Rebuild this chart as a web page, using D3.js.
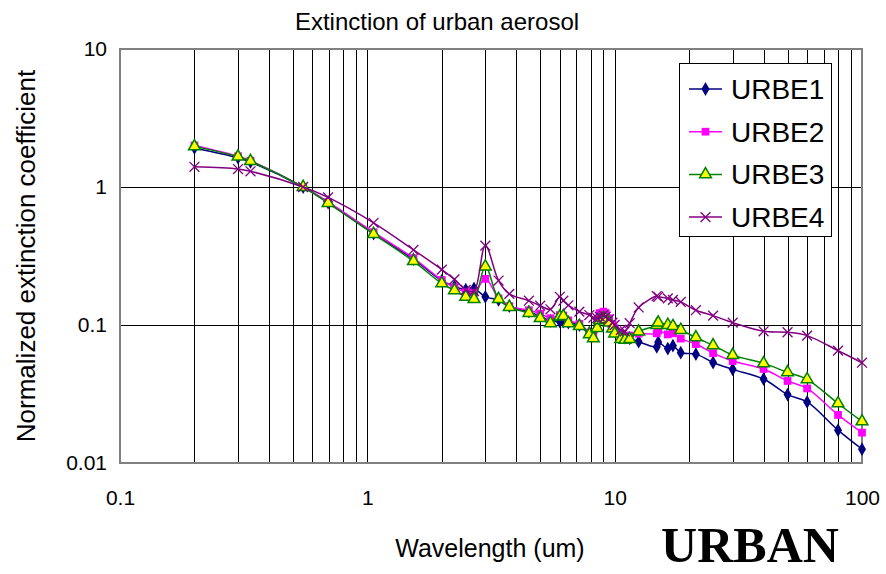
<!DOCTYPE html>
<html>
<head>
<meta charset="utf-8">
<script src="https://cdn.jsdelivr.net/npm/d3@7"></script>
<style>
html,body{margin:0;padding:0;background:#fff;}
svg{display:block;font-family:"Liberation Sans",Arial,sans-serif;}
</style>
</head>
<body>
<svg id="chart" width="886" height="574"></svg>
<script>
// ---- data ----
const wavelengths = [0.2,0.3,0.337,0.55,0.694,1.06,1.536,2.0,2.25,2.5,2.7,3.0,3.392,3.75,4.5,5.0,5.5,6.0,6.2,6.5,7.2,7.9,8.2,8.5,8.7,9.0,9.2,9.5,9.8,10.0,10.591,11.0,11.5,12.5,14.8,15.0,16.4,17.2,18.5,21.3,25.0,30.0,40.0,50.0,60.0,80.0,100.0];
const urbe1 = [1.92,1.63,1.52,1.0,0.77,0.46,0.30,0.21,0.19,0.18,0.184,0.160,0.152,0.137,0.125,0.116,0.107,0.106,0.106,0.104,0.100,0.088,0.086,0.098,0.112,0.118,0.116,0.108,0.098,0.092,0.084,0.081,0.080,0.0757,0.0695,0.075,0.0675,0.0708,0.063,0.0615,0.0535,0.0477,0.0406,0.0313,0.0277,0.0173,0.0126];
const urbe2 = [2.0,1.67,1.55,1.0,0.78,0.47,0.305,0.212,0.187,0.174,0.171,0.216,0.156,0.137,0.128,0.121,0.112,0.118,0.117,0.108,0.102,0.088,0.083,0.108,0.122,0.125,0.122,0.112,0.102,0.095,0.0865,0.083,0.084,0.0865,0.087,0.091,0.0855,0.087,0.0797,0.0728,0.0625,0.0548,0.048,0.0393,0.0347,0.0223,0.0166];
const urbe3 = [1.97,1.66,1.54,1.0,0.765,0.456,0.29,0.20,0.178,0.160,0.154,0.265,0.154,0.135,0.122,0.112,0.103,0.115,0.116,0.103,0.098,0.0855,0.080,0.095,0.108,0.112,0.110,0.104,0.094,0.0867,0.079,0.078,0.079,0.0895,0.100,0.104,0.100,0.098,0.092,0.0813,0.0712,0.0605,0.0527,0.0454,0.0404,0.027,0.020];
const urbe4 = [1.40,1.35,1.30,1.0,0.84,0.55,0.35,0.252,0.214,0.18,0.176,0.376,0.21,0.168,0.15,0.138,0.13,0.16,0.15,0.139,0.125,0.118,0.113,0.112,0.115,0.118,0.115,0.11,0.104,0.1,0.092,0.09,0.103,0.134,0.162,0.160,0.156,0.152,0.147,0.128,0.117,0.104,0.09,0.0886,0.0838,0.0652,0.0533];
const seriesNames = ["URBE1","URBE2","URBE3","URBE4"];
const xTickLabels = ["0.1","1","10","100"];
const yTickLabels = ["10","1","0.1","0.01"];
const titleText = "Extinction of urban aerosol";
const xTitle = "Wavelength (um)";
const yTitle = "Normalized extinction coefficient";
const stampText = "URBAN";

// ---- layout ----
const svg = d3.select("#chart");
const L = 120, R = 862, T = 49, B = 463;
const x = d3.scaleLog().domain([0.1,100]).range([L,R]);
const y = d3.scaleLog().domain([0.01,10]).range([B,T]);

const styles = [
  {color:"#000080", marker:"diamond"},
  {color:"#FF00FF", marker:"square"},
  {color:"#008000", marker:"triangle"},
  {color:"#800080", marker:"cross"}
];
const allSeries = [urbe1,urbe2,urbe3,urbe4].map((v,i)=>({name:seriesNames[i], values:v, style:styles[i]}));

// grid
const g = svg.append("g");
const vTicks = [];
[0.1,1,10].forEach(d=>{ for(let k=1;k<10;k++) vTicks.push(d*k); });
vTicks.push(100);
g.selectAll("line.v").data(vTicks.filter(t=>t>0.1 && t<100)).join("line")
  .attr("x1",d=>Math.round(x(d))+0.5).attr("x2",d=>Math.round(x(d))+0.5)
  .attr("y1",T).attr("y2",B).attr("stroke","#000").attr("stroke-width",1);
g.selectAll("line.h").data([1,0.1]).join("line")
  .attr("x1",L).attr("x2",R).attr("y1",d=>Math.round(y(d))+0.5).attr("y2",d=>Math.round(y(d))+0.5)
  .attr("stroke","#000").attr("stroke-width",1);
// border
g.append("rect").attr("x",L).attr("y",T).attr("width",R-L).attr("height",B-T)
  .attr("fill","none").attr("stroke","#808080").attr("stroke-width",2);

// axes labels (via d3 axis)
const xAxis = d3.axisBottom(x).tickValues([0.1,1,10,100]).tickFormat((d,i)=>xTickLabels[i]).tickSize(0).tickPadding(0);
const xa = svg.append("g").attr("transform",`translate(0,${B+35})`).call(xAxis);
xa.select(".domain").remove();
xa.selectAll("text").attr("font-size",21).attr("fill","#000").attr("font-family","'Liberation Sans',Arial,sans-serif").attr("dy","0.35em").attr("y",0);

const yAxis = d3.axisLeft(y).tickValues([10,1,0.1,0.01]).tickFormat((d,i)=>yTickLabels[i]).tickSize(0).tickPadding(0);
const ya = svg.append("g").attr("transform",`translate(${L-13},0)`).call(yAxis);
ya.select(".domain").remove();
ya.selectAll("text").attr("font-size",21).attr("fill","#000").attr("font-family","'Liberation Sans',Arial,sans-serif");

// lines
const line = d3.line().x(d=>x(d[0])).y(d=>y(d[1])).curve(d3.curveCatmullRom.alpha(0.5));
const symbolFor = {
  diamond: d3.symbol().type(d3.symbolDiamond).size(55),
  square: d3.symbol().type(d3.symbolSquare).size(60),
  triangle: d3.symbol().type(d3.symbolTriangle).size(60),
  cross: d3.symbol().type(d3.symbolX).size(65)
};
allSeries.forEach(s=>{
  const pts = wavelengths.map((w,i)=>[w,s.values[i]]);
  const sg = svg.append("g");
  sg.append("path").attr("d",line(pts)).attr("fill","none").attr("stroke",s.style.color).attr("stroke-width",1.5);
  const m = sg.selectAll("path.m").data(pts).join("path").attr("class","m")
    .attr("transform",d=>`translate(${x(d[0])},${y(d[1])})`)
    .attr("d",symbolFor[s.style.marker]);
  if(s.style.marker==="triangle") m.attr("fill","#FFFF00").attr("stroke","#008000").attr("stroke-width",1.5);
  else if(s.style.marker==="cross") m.attr("fill","none").attr("stroke",s.style.color).attr("stroke-width",1.3);
  else m.attr("fill",s.style.color).attr("stroke","none");
});

// legend
const lg = svg.append("g");
lg.append("rect").attr("x",679.5).attr("y",63.5).attr("width",152).attr("height",173)
  .attr("fill","#fff").attr("stroke","#000").attr("stroke-width",1);
allSeries.forEach((s,i)=>{
  const cy = 89 + i*42.7;
  lg.append("line").attr("x1",689).attr("x2",722).attr("y1",cy).attr("y2",cy).attr("stroke",s.style.color).attr("stroke-width",1.5);
  const m = lg.append("path").attr("transform",`translate(705.5,${cy})`).attr("d",symbolFor[s.style.marker]);
  if(s.style.marker==="triangle") m.attr("fill","#FFFF00").attr("stroke","#008000").attr("stroke-width",1.5);
  else if(s.style.marker==="cross") m.attr("fill","none").attr("stroke",s.style.color).attr("stroke-width",1.3);
  else m.attr("fill",s.style.color);
  lg.append("text").attr("x",731).attr("y",cy).attr("dy","0.36em").attr("font-size",28).attr("fill","#000").text(s.name);
});

// titles
svg.append("text").attr("x",437).attr("y",22).attr("dy","0.35em").attr("text-anchor","middle").attr("font-size",24).text(titleText);
svg.append("text").attr("x",490).attr("y",548).attr("dy","0.35em").attr("text-anchor","middle").attr("font-size",25).text(xTitle);
svg.append("text").attr("transform","translate(26,256) rotate(-90)").attr("dy","0.35em").attr("text-anchor","middle").attr("font-size",26).text(yTitle);
svg.append("text").attr("x",750).attr("y",562).attr("text-anchor","middle").attr("font-family","'Liberation Serif','Times New Roman',serif").attr("font-weight","bold").attr("font-size",50).text(stampText);
</script>
</body>
</html>
